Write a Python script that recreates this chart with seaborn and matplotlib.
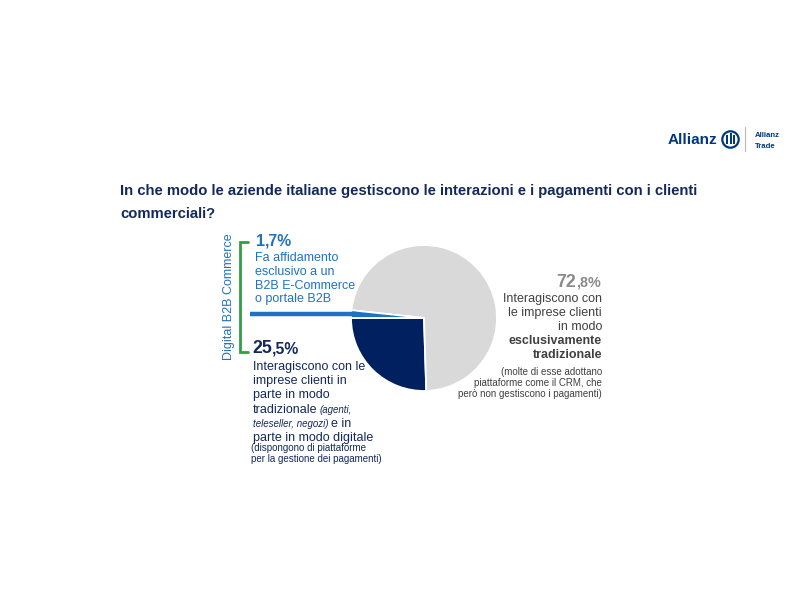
import matplotlib
matplotlib.use('Agg')
import matplotlib.pyplot as plt
import seaborn as sns
import numpy as np
from matplotlib.patches import Circle, Rectangle

sns.set_theme(style='white')
plt.rcParams['font.family'] = ['Liberation Sans', 'DejaVu Sans']

# ---------------- data ----------------
segments = ['In parte tradizionale, in parte digitale',
            'Esclusivamente tradizionale',
            'Esclusivo B2B E-Commerce / portale B2B']
shares = [25.5, 72.8, 1.7]
pct_int = ['25', '72', '1']
pct_dec = [',5%', ',8%', ',7%']

title_lines = ['In che modo le aziende italiane gestiscono le interazioni e i pagamenti con i clienti',
               'commerciali?']
bracket_label = 'Digital B2B Commerce'
blue_lines = ['Fa affidamento', 'esclusivo a un', 'B2B E-Commerce', 'o portale B2B']
navy_lines = ['Interagiscono con le', 'imprese clienti in', 'parte in modo']
navy_note = ['(dispongono di piattaforme', 'per la gestione dei pagamenti)']
gray_lines = ['Interagiscono con', 'le imprese clienti', 'in modo']
gray_bold = ['esclusivamente', 'tradizionale']
gray_note = ['(molte di esse adottano', 'piattaforme come il CRM, che', 'però non gestiscono i pagamenti)']

# ---------------- styles ----------------
NAVY = '#002060'
NAVY_TXT = '#13285c'
BLUE = '#1f72c2'
GRAY = '#d9d9d9'
GRAY_PCT = '#8a8a8a'
GRAY_TXT = '#404040'
GREEN = '#2fa043'
LOGO = '#003781'

W, H = 800, 600
fig = plt.figure(figsize=(8, 6), dpi=100)
fig.patch.set_facecolor('white')
renderer = fig.canvas.get_renderer()

def fx(x):
    return x / W

def fy(y):
    return 1 - y / H

def mk(s, gap=0, **kw):
    return (s, dict(kw), gap)

def seg(x, y, items, ha='left'):
    """Place text pieces side by side on one baseline (y in px from top)."""
    cur = x
    seq = items if ha == 'left' else list(reversed(items))
    for s, kw, g in seq:
        t = fig.text(fx(cur), fy(y), s, ha=ha, va='baseline', **kw)
        bb = t.get_window_extent(renderer)
        cur = bb.x1 + g if ha == 'left' else bb.x0 - g

# overlay axes in pixel coords for decorations
ov = fig.add_axes([0, 0, 1, 1], zorder=0)
ov.set_xlim(0, W)
ov.set_ylim(H, 0)
ov.axis('off')

# ---------------- pie ----------------
cx, cy, r = 424, 318, 73
ax = fig.add_axes([(cx - r) / W, 1 - (cy + r) / H, 2 * r / W, 2 * r / H], zorder=2)
ax.pie(shares, colors=[NAVY, GRAY, BLUE], startangle=180, counterclock=True,
       radius=1, wedgeprops=dict(edgecolor='white', linewidth=1.3))
ax.set_xlim(-1, 1)
ax.set_ylim(-1, 1)
ax.set_aspect('equal')
ax.axis('off')

# leader line to the small blue slice
mid = np.deg2rad(180 - shares[2] * 3.6 / 2)
ly = np.sin(mid) * 1.0
ax.plot([(250 - cx) / r, -0.93], [ly, ly], color=BLUE, lw=3.2,
        solid_capstyle='butt', clip_on=False)

# ---------------- title ----------------
fig.text(fx(120), fy(195), title_lines[0], fontsize=10.7, fontweight='bold',
         color=NAVY_TXT, ha='left', va='baseline')
fig.text(fx(120), fy(218), title_lines[1], fontsize=10.7, fontweight='bold',
         color=NAVY_TXT, ha='left', va='baseline')

# ---------------- logo ----------------
fig.text(fx(668), fy(144.5), 'Allianz', fontsize=11, fontweight='bold', color=LOGO,
         ha='left', va='baseline')
ov.add_patch(Circle((730.5, 139.5), 8.2, fill=False, ec=LOGO, lw=1.6))
ov.add_patch(Rectangle((726.3, 135), 1.9, 9, color=LOGO, lw=0))
ov.add_patch(Rectangle((729.6, 133), 1.9, 11, color=LOGO, lw=0))
ov.add_patch(Rectangle((732.9, 135), 1.9, 9, color=LOGO, lw=0))
ov.plot([745, 745], [127, 151], color='#b8b8b8', lw=0.8)
fig.text(fx(755), fy(137), 'Allianz', fontsize=5.6, fontweight='bold', color=LOGO,
         ha='left', va='baseline')
fig.text(fx(755), fy(148), 'Trade', fontsize=5.6, fontweight='bold', color=LOGO,
         ha='left', va='baseline')

# ---------------- bracket ----------------
ov.plot([248, 240, 240, 248], [242, 242, 352, 352], color=GREEN, lw=2,
        solid_joinstyle='miter')
fig.text(fx(229), fy(297), bracket_label, rotation=90, fontsize=9, color=BLUE,
         ha='center', va='center')

# ---------------- blue (1,7%) ----------------
seg(256, 246, [mk(pct_int[2], 0, fontsize=11.8, fontweight='bold', color=BLUE),
               mk(pct_dec[2], 0, fontsize=11.3, fontweight='bold', color=BLUE)])
for i, s in enumerate(blue_lines):
    fig.text(fx(255), fy(261 + 13.8 * i), s, fontsize=9, color=BLUE,
             ha='left', va='baseline')

# ---------------- navy (25,5%) ----------------
seg(252, 353, [mk(pct_int[0], 0, fontsize=12.8, fontweight='bold', color=NAVY_TXT),
               mk(pct_dec[0], 0, fontsize=11.3, fontweight='bold', color=NAVY_TXT)])
for i, s in enumerate(navy_lines):
    fig.text(fx(253), fy(370 + 14.2 * i), s, fontsize=9, color=NAVY_TXT,
             ha='left', va='baseline')
seg(253, 370 + 14.2 * 3, [mk('tradizionale', 2.5, fontsize=9, color=NAVY_TXT),
                          mk('(agenti,', 0, fontsize=7, style='italic', color=NAVY_TXT)])
seg(253, 370 + 14.2 * 4, [mk('teleseller, negozi)', 2.5, fontsize=7, style='italic', color=NAVY_TXT),
                          mk('e in', 0, fontsize=9, color=NAVY_TXT)])
fig.text(fx(253), fy(370 + 14.2 * 5), 'parte in modo digitale', fontsize=9,
         color=NAVY_TXT, ha='left', va='baseline')
for i, s in enumerate(navy_note):
    fig.text(fx(251), fy(451 + 10.5 * i), s, fontsize=7, color=NAVY_TXT,
             ha='left', va='baseline')

# ---------------- gray (72,8%) ----------------
seg(601, 287, [mk(pct_int[1], 0, fontsize=12.8, fontweight='bold', color=GRAY_PCT),
               mk(pct_dec[1], 0, fontsize=10.3, fontweight='bold', color=GRAY_PCT)], ha='right')
for i, s in enumerate(gray_lines):
    fig.text(fx(602), fy(302 + 14 * i), s, fontsize=9, color=GRAY_TXT,
             ha='right', va='baseline')
for i, s in enumerate(gray_bold):
    fig.text(fx(602), fy(344 + 14 * i), s, fontsize=9, fontweight='bold',
             color=GRAY_TXT, ha='right', va='baseline')
for i, s in enumerate(gray_note):
    fig.text(fx(602), fy(375 + 11 * i), s, fontsize=7, color=GRAY_TXT,
             ha='right', va='baseline')

fig.savefig('out.png', dpi=100, facecolor='white')
